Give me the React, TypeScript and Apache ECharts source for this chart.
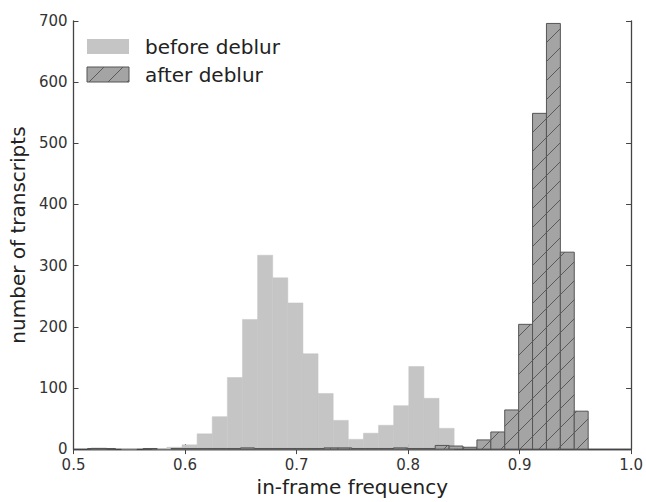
import React, { useEffect, useRef } from "react";
import * as echarts from "echarts";

// Histogram "before deblur": bin start, bin width, counts per bin
const beforeBinStart = 0.5159;
const beforeBinWidth = 0.01356;
const beforeCounts = [
  2, 0, 1, 0, 1, 3, 7, 25, 53, 117, 212, 317, 280, 239, 156, 91, 47, 16, 26, 39, 71, 135, 83, 34,
];

// Histogram "after deblur"
const afterBinStart = 0.5126;
const afterBinWidth = 0.01247;
const afterCounts = [
  1, 1, 0, 0, 1, 0, 1, 1, 1, 1, 1, 2, 1, 1, 1, 1, 1, 2, 2, 1, 1, 1, 2, 1, 1, 6, 5, 3, 15, 28, 64,
  204, 549, 696, 322, 62,
];

const seriesNames = ["before deblur", "after deblur"];
const xLabel = "in-frame frequency";
const yLabel = "number of transcripts";

const FONT = "DejaVu Sans";
const BEFORE_FILL = "#c5c5c5";
const AFTER_FILL = "#a4a4a4";
const AFTER_EDGE = "#555555";
const HATCH = "#5a5a5a";
const HATCH_STEP = 19;

function hatchLines(x0: number, y0: number, x1: number, y1: number, s: number) {
  const out: number[][] = [];
  const cStart = Math.ceil((x0 + y0) / s) * s;
  for (let c = cStart; c <= x1 + y1; c += s) {
    const ymin = Math.max(y0, c - x1);
    const ymax = Math.min(y1, c - x0);
    if (ymax > ymin) out.push([c - ymin, ymin, c - ymax, ymax]);
  }
  return out;
}

function buildData(start: number, width: number, counts: number[]) {
  const d: number[][] = [];
  counts.forEach((c, i) => {
    if (c > 0) d.push([start + i * width, start + (i + 1) * width, c]);
  });
  return d;
}

export default function App() {
  const ref = useRef<HTMLDivElement>(null);
  useEffect(() => {
    if (!ref.current) return;
    const chart = echarts.init(ref.current, undefined, { renderer: "svg" });

    const beforeData = buildData(beforeBinStart, beforeBinWidth, beforeCounts);
    const afterData = buildData(afterBinStart, afterBinWidth, afterCounts);

    const axisLine = { show: true, lineStyle: { color: "#444", width: 1.3 } };
    const tick = { show: true, inside: true, length: 5, lineStyle: { color: "#444", width: 1 } };
    const label = { fontFamily: FONT, fontSize: 15, color: "#333" };

    const legendY = [39, 67];
    const legendHatch = hatchLines(87, legendY[1], 129, legendY[1] + 15, HATCH_STEP);

    chart.setOption({
      animation: false,
      grid: { left: 70, right: 13, top: 21, bottom: 46 },
      xAxis: [
        {
          type: "value",
          min: 0.5,
          max: 1.0,
          interval: 0.1,
          position: "bottom",
          axisLine,
          axisTick: tick,
          splitLine: { show: false },
          axisLabel: { ...label, margin: 8, lineHeight: 15, formatter: (v: number) => v.toFixed(1) },
          name: xLabel,
          nameLocation: "middle",
          nameGap: 25,
          nameTextStyle: { fontFamily: FONT, fontSize: 20, color: "#222" },
        },
        {
          type: "value",
          min: 0.5,
          max: 1.0,
          interval: 0.1,
          position: "top",
          axisLine,
          axisTick: tick,
          splitLine: { show: false },
          axisLabel: { show: false },
        },
      ],
      yAxis: [
        {
          type: "value",
          min: 0,
          max: 700,
          interval: 100,
          position: "left",
          axisLine,
          axisTick: tick,
          splitLine: { show: false },
          axisLabel: { ...label, margin: 6, lineHeight: 13 },
          name: yLabel,
          nameLocation: "middle",
          nameGap: 39,
          nameTextStyle: { fontFamily: FONT, fontSize: 20, color: "#222" },
        },
        {
          type: "value",
          min: 0,
          max: 700,
          interval: 100,
          position: "right",
          axisLine,
          axisTick: tick,
          splitLine: { show: false },
          axisLabel: { show: false },
        },
      ],
      series: [
        {
          name: seriesNames[0],
          type: "custom",
          xAxisIndex: 0,
          yAxisIndex: 0,
          data: beforeData,
          encode: { x: [0, 1], y: 2 },
          z: 1,
          renderItem: (params: any, api: any) => {
            const p0 = api.coord([api.value(0), api.value(2)]);
            const p1 = api.coord([api.value(1), 0]);
            return {
              type: "rect",
              shape: { x: p0[0], y: p0[1], width: p1[0] - p0[0], height: p1[1] - p0[1] },
              style: { fill: BEFORE_FILL, stroke: BEFORE_FILL, lineWidth: 0.5 },
            };
          },
        },
        {
          name: seriesNames[1],
          type: "custom",
          xAxisIndex: 0,
          yAxisIndex: 0,
          data: afterData,
          encode: { x: [0, 1], y: 2 },
          z: 2,
          renderItem: (params: any, api: any) => {
            const p0 = api.coord([api.value(0), api.value(2)]);
            const p1 = api.coord([api.value(1), 0]);
            const lines = hatchLines(p0[0], p0[1], p1[0], p1[1], HATCH_STEP);
            return {
              type: "group",
              children: [
                {
                  type: "rect",
                  shape: { x: p0[0], y: p0[1], width: p1[0] - p0[0], height: p1[1] - p0[1] },
                  style: { fill: AFTER_FILL, stroke: AFTER_EDGE, lineWidth: 1 },
                },
                ...lines.map((l) => ({
                  type: "line",
                  shape: { x1: l[0], y1: l[1], x2: l[2], y2: l[3] },
                  style: { stroke: HATCH, lineWidth: 1 },
                })),
              ],
            };
          },
        },
      ],
      graphic: [
        {
          type: "rect",
          shape: { x: 87, y: legendY[0], width: 42, height: 15 },
          style: { fill: BEFORE_FILL },
          z: 10,
        },
        {
          type: "text",
          x: 145,
          y: legendY[0] + 7.5,
          style: {
            text: seriesNames[0],
            fontFamily: FONT,
            fontSize: 20,
            fill: "#222",
            verticalAlign: "middle",
          },
          z: 10,
        },
        {
          type: "rect",
          shape: { x: 87, y: legendY[1], width: 42, height: 15 },
          style: { fill: AFTER_FILL, stroke: AFTER_EDGE, lineWidth: 1 },
          z: 10,
        },
        ...legendHatch.map((l) => ({
          type: "line",
          shape: { x1: l[0], y1: l[1], x2: l[2], y2: l[3] },
          style: { stroke: HATCH, lineWidth: 1 },
          z: 11,
        })),
        {
          type: "text",
          x: 145,
          y: legendY[1] + 7.5,
          style: {
            text: seriesNames[1],
            fontFamily: FONT,
            fontSize: 20,
            fill: "#222",
            verticalAlign: "middle",
          },
          z: 10,
        },
      ],
    });
    return () => chart.dispose();
  }, []);
  return (
    <div
      ref={ref}
      style={{ position: "fixed", left: 0, top: 0, width: 646, height: 502, background: "#fff" }}
    />
  );
}
